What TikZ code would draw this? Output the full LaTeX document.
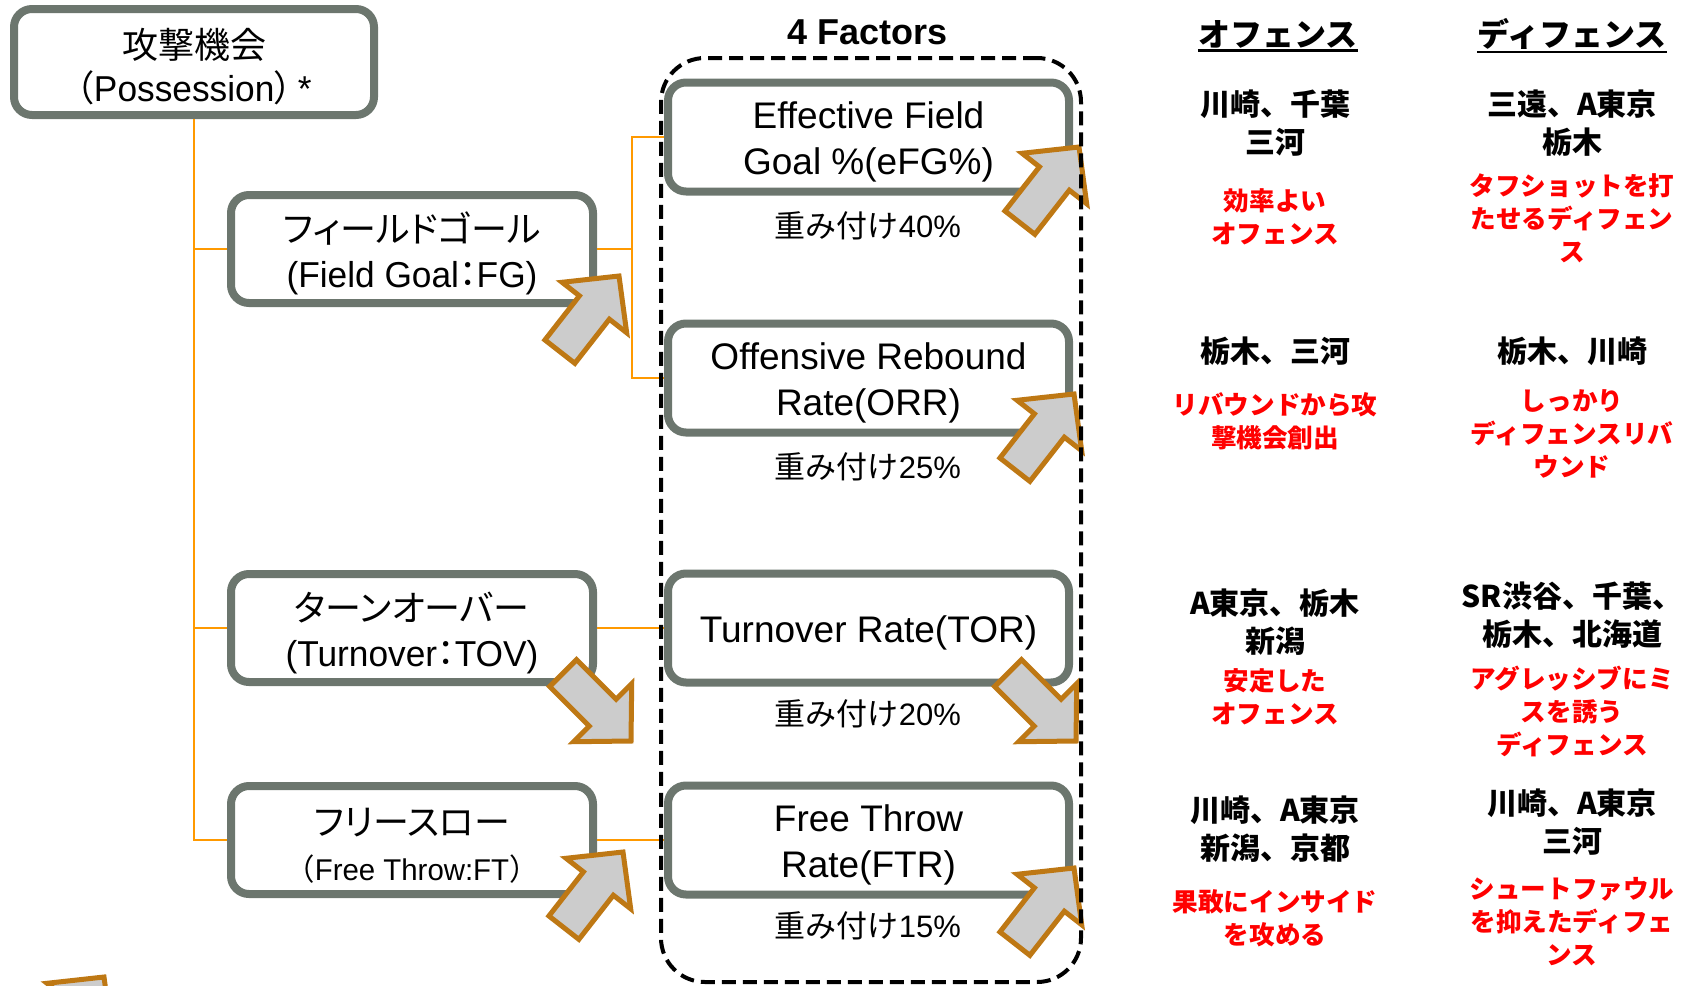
\documentclass[tikz,border=0pt]{standalone}
\usepackage{graphicx}
\usepackage{fontspec}
\setmainfont{Liberation Sans}
\newfontfamily\jp{Noto Sans CJK JP}
\newfontfamily\jpp{Noto Sans CJK JP}[RawFeature=+palt]
\definecolor{boxgray}{RGB}{108,118,110}
\definecolor{connorange}{RGB}{255,153,0}
\definecolor{arrowedge}{RGB}{190,120,20}
\definecolor{arrowfill}{RGB}{204,204,204}
\definecolor{notered}{RGB}{255,0,0}
\newcommand{\fsz}[2]{\fontsize{#1}{#2}\selectfont}
\newcommand{\narrowlatin}[1]{{\rmfamily\scalebox{0.98}[1]{#1}}}
\begin{document}
\begin{tikzpicture}[x=0.5pt,y=-0.5pt,
  leftbox/.style={draw=boxgray,line width=4pt,rounded corners=9pt,fill=white,align=center,
    inner sep=0pt,minimum width=181pt,minimum height=54pt,font=\jpp\fsz{18pt}{22.5pt}},
  factorbox/.style={draw=boxgray,line width=4pt,rounded corners=9pt,fill=white,align=center,
    inner sep=0pt,minimum width=200.5pt,minimum height=54.5pt,font=\fsz{18.5pt}{23pt}},
  connline/.style={draw=connorange,line width=1pt},
  barrowsty/.style={draw=arrowedge,fill=arrowfill,line width=2.5pt,line join=miter},
  barrow/.pic={\path[barrowsty] (0,0) -- (-40,41) -- (-40,19) -- (-96,19) -- (-96,-19) -- (-40,-19) -- (-40,-41) -- cycle;},
  wt/.style={font=\fsz{15.5pt}{18pt},inner sep=0pt},
  blk/.style={font=\jp\bfseries\fsz{15pt}{18.75pt},align=center,inner sep=0pt},
  rednote/.style={font=\jp\bfseries\fsz{12.8pt}{16.5pt},text=notered,align=center,inner sep=0pt},
  hdr/.style={font=\jp\bfseries\fsz{16pt}{19pt},inner sep=0pt}
]
\useasboundingbox (0,0) rectangle (1684,985);

% left tree boxes
\node[leftbox,minimum width=180pt,minimum height=53pt,font=\jpp\fsz{18pt}{21.5pt}] (poss) at (194,62)
  {\rule{0pt}{1.1em}攻撃機会\\\narrowlatin{{\jpp （}Possession{\jpp ）}\,*}};
\node[leftbox] (fg) at (412,249) {\rule{0pt}{1.1em}フィールドゴール\\\narrowlatin{(Field Goal{\jpp ：}FG)}};
\node[leftbox] (tov) at (412,628) {\rule{0pt}{1.1em}ターンオーバー\\\narrowlatin{(Turnover{\jpp ：}TOV)}};
\node[leftbox] (ft) at (412,840) {\rule{0pt}{1.1em}フリースロー\\{\fsz{15pt}{20pt}\narrowlatin{{\jp （}Free Throw:FT{\jp ）}}}};

% factor boxes
\node[factorbox] (efg) at (868.5,137) {\rule{0pt}{1em}Effective Field\\Goal \%(eFG\%)};
\node[factorbox] (orr) at (868.5,378) {\rule{0pt}{1em}Offensive Rebound\\Rate(ORR)};
\node[factorbox] (tor) at (868.5,628) {\rule{0pt}{1em}Turnover Rate(TOR)};
\node[factorbox] (ftr) at (868.5,840) {\rule{0pt}{1em}Free Throw\\Rate(FTR)};

% connectors
\draw[connline] (poss.south) |- (fg.west);
\draw[connline] (poss.south) |- (tov.west);
\draw[connline] (poss.south) |- (ft.west);
\draw[connline] (fg.east) -- ++(35,0) coordinate (fgj) |- (efg.west);
\draw[connline] (fgj) |- (orr.west);
\draw[connline] (tov.east) -- (tor.west);
\draw[connline] (ft.east) -- (ftr.west);

% block arrows
\pic[rotate=52] at (619,276) {barrow};
\pic[rotate=52] at (1079,147) {barrow};
\pic[rotate=52] at (1074,394) {barrow};
\pic[rotate=-45] at (631,741) {barrow};
\pic[rotate=-45] at (1076,741) {barrow};
\pic[rotate=52] at (623,852) {barrow};
\pic[rotate=52] at (1074,868) {barrow};
\pic[rotate=52] at (104,977) {barrow};

% dashed container
\node[draw=black,line width=2pt,dash pattern=on 7pt off 3.5pt,rounded corners=22pt,
  minimum width=210pt,minimum height=462pt,inner sep=0pt] (factors) at (871,520) {};
\node[font=\bfseries\fsz{18pt}{20pt},inner sep=0pt] (title) at (868,32) {4 Factors};

% weights
\node[wt] (w1) at (868,226) {{\jp 重み付け}40\%};
\node[wt] (w2) at (868,467) {{\jp 重み付け}25\%};
\node[wt] (w3) at (868,714) {{\jp 重み付け}20\%};
\node[wt] (w4) at (868,926) {{\jp 重み付け}15\%};

% headers
\node[hdr] (offh) at (1278,34) {オフェンス};
\node[hdr] (defh) at (1572,34) {ディフェンス};
\draw[line width=1.2pt] ([yshift=-1pt]offh.south west) -- ([yshift=-1pt]offh.south east);
\draw[line width=1.2pt] ([yshift=-1pt]defh.south west) -- ([yshift=-1pt]defh.south east);

% team names
\node[blk] (ob1) at (1275,123) {川崎、千葉\\三河};
\node[blk] (db1) at (1572,123) {三遠、A東京\\栃木};
\node[blk] (ob2) at (1275,351) {栃木、三河};
\node[blk] (db2) at (1572,351) {栃木、川崎};
\node[blk] (ob3) at (1275,622) {A東京、栃木\\新潟};
\node[blk] (db3) at (1572,615) {SR渋谷、千葉、\\栃木、北海道};
\node[blk] (ob4) at (1275,829) {川崎、A東京\\新潟、京都};
\node[blk] (db4) at (1572,822) {川崎、A東京\\三河};

% red notes
\node[rednote] (or1) at (1275,217) {効率よい\\オフェンス};
\node[rednote] (dr1) at (1572,218) {タフショットを打\\たせるディフェン\\ス};
\node[rednote] (or2) at (1275,421) {リバウンドから攻\\撃機会創出};
\node[rednote] (dr2) at (1572,434) {しっかり\\ディフェンスリバ\\ウンド};
\node[rednote] (or3) at (1275,697) {安定した\\オフェンス};
\node[rednote] (dr3) at (1572,711) {アグレッシブにミ\\スを誘う\\ディフェンス};
\node[rednote] (or4) at (1275,918) {果敢にインサイド\\を攻める};
\node[rednote] (dr4) at (1572,922) {シュートファウル\\を抑えたディフェ\\ンス};
\end{tikzpicture}
\end{document}
